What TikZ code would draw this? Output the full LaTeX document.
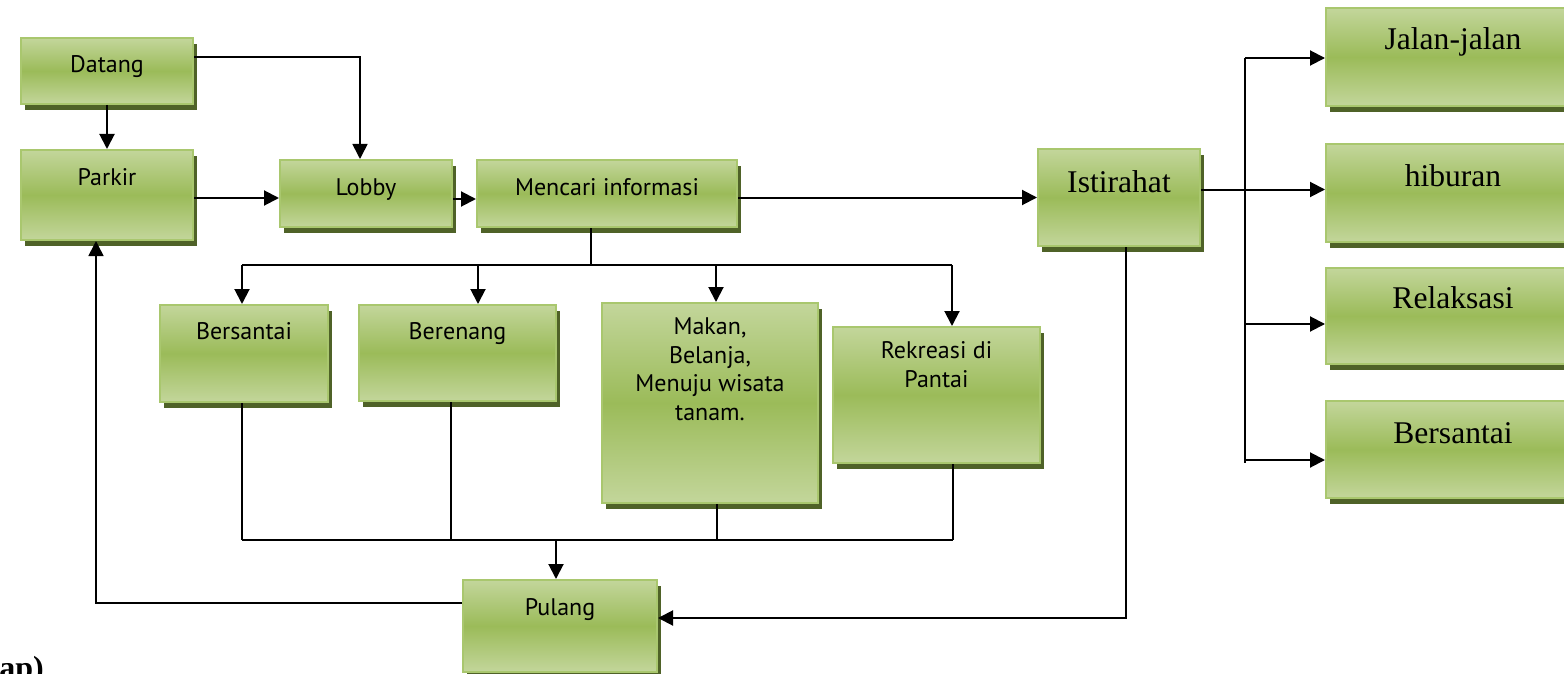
\documentclass[tikz,border=0pt]{standalone}
\usepackage{fontspec}
\setmainfont{Liberation Serif}
\newfontfamily\kotakfont{PT Sans}
\usetikzlibrary{arrows.meta,shadows}
\definecolor{hijaumuda}{HTML}{C3D69B}
\definecolor{hijau}{HTML}{9BBB59}
\definecolor{garistepi}{HTML}{A9C76E}
\definecolor{bayangan}{HTML}{4F6228}
\tikzstyle{kotak}=[draw=garistepi, line width=1pt, top color=hijaumuda, bottom color=hijaumuda, middle color=hijau,
  inner sep=0pt, drop shadow={shadow xshift=2pt, shadow yshift=-3pt, fill=bayangan, opacity=1},
  font=\kotakfont\fontsize{12pt}{14.25pt}\selectfont]
\tikzstyle{serif}=[font=\fontsize{15.8pt}{19pt}\selectfont]
\tikzstyle{panah}=[-{Triangle[length=7.5pt,width=7.5pt]}, line width=1pt]
\tikzstyle{garisan}=[line width=0.8pt]
\tikzset{tinggi/.style 2 args={text height=#1, text depth=#2}}

\begin{document}
\begin{tikzpicture}[x=0.5pt, y=-0.5pt]
  \useasboundingbox (0,0) rectangle (1564,674);

  % kotak kiri
  \node[kotak, minimum width=86pt, tinggi={17.5pt}{15.5pt}] (datang) at (107,71) {Datang};
  \node[kotak, minimum width=86pt, tinggi={17.5pt}{27.5pt}] (parkir) at (107,195) {Parkir};
  \node[kotak, minimum width=86pt, tinggi={17.5pt}{16pt}] (lobby) at (366,193.5) {Lobby};
  \node[kotak, minimum width=130pt, tinggi={17.5pt}{16pt}] (mencari) at (607,193.5) {Mencari informasi};

  % kegiatan
  \node[kotak, minimum width=84pt, tinggi={17pt}{31.5pt}] (bersantai) at (244,353.5) {Bersantai};
  \node[kotak, minimum width=98.5pt, tinggi={17pt}{31pt}] (berenang) at (457.5,353) {Berenang};
  \node[kotak, minimum width=108pt, tinggi={58.5pt}{41.5pt}, align=center] (makan) at (710,403)
    {Makan,\\Belanja,\\Menuju wisata\\tanam.};
  \node[kotak, minimum width=103.5pt, tinggi={30pt}{38pt}, align=center] (rekreasi) at (936.5,395)
    {Rekreasi di\\Pantai};
  \node[kotak, minimum width=97pt, tinggi={17.5pt}{28.5pt}] (pulang) at (560,626) {Pulang};

  % kotak kanan
  \node[kotak, serif, minimum width=81pt, tinggi={21.5pt}{27pt}] (istirahat) at (1119,197.5) {Istirahat};
  \node[kotak, serif, minimum width=127pt, tinggi={21pt}{28pt}] (jalan) at (1453,57) {Jalan-jalan};
  \node[kotak, serif, minimum width=127pt, tinggi={21pt}{28pt}] (hiburan) at (1453,193) {hiburan};
  \node[kotak, serif, minimum width=127pt, tinggi={20.3pt}{27.7pt}] (relaksasi) at (1453,316) {Relaksasi};
  \node[kotak, serif, minimum width=127pt, tinggi={21pt}{27.5pt}] (bersantaib) at (1453,449.5) {Bersantai};

  \node[anchor=base west, inner sep=0pt, font=\bfseries\fontsize{16pt}{19pt}\selectfont] (judul) at (-1,678) {ap)};

  % titik bantu
  \coordinate (d1) at (360,57);
  \coordinate (cab) at (591,265);
  \coordinate (t1) at (242,265);
  \coordinate (t2) at (478,265);
  \coordinate (t3) at (716,265);
  \coordinate (t4) at (952,265);
  \coordinate (k1) at (242,540);
  \coordinate (k2) at (451,540);
  \coordinate (k3) at (717,540);
  \coordinate (k4) at (953,540);
  \coordinate (kp) at (556,540);
  \coordinate (p1) at (96,603);
  \coordinate (i1) at (1126,618);
  \coordinate (r1) at (1245,58);
  \coordinate (r2) at (1245,324);
  \coordinate (r3) at (1245,460);
  \coordinate (r4) at (1245,463);

  % alur masuk
  \draw[panah, line width=0.8pt] (d1 -| datang.east) -- (d1) -- (d1 |- lobby.north);
  \draw[panah] (datang.south) -- (parkir.north);
  \draw[panah] ([yshift=-1.5pt]parkir.east) -- ([yshift=-1.5pt]parkir.east -| lobby.west);
  \draw[panah] ([yshift=-2.75pt]lobby.east) -- ([yshift=-2.75pt]mencari.west);
  \draw[panah] (mencari.east |- istirahat.west) -- (istirahat.west);

  % cabang kegiatan
  \draw[garisan] (cab |- mencari.south) -- (cab);
  \draw[garisan] (t1) -- (t4);
  \draw[panah] (t1) -- (t1 |- bersantai.north);
  \draw[panah] (t2) -- (t2 |- berenang.north);
  \draw[panah] (t3) -- (t3 |- makan.north);
  \draw[panah] (t4) -- (t4 |- rekreasi.north);

  % kumpul ke pulang
  \draw[garisan] (k1 |- bersantai.south) -- (k1);
  \draw[garisan] (k2 |- berenang.south) -- (k2);
  \draw[garisan] (k3 |- makan.south) -- (k3);
  \draw[garisan] (k4 |- rekreasi.south) -- (k4);
  \draw[garisan] (k1) -- (k4);
  \draw[panah] (kp) -- (kp |- pulang.north);
  \draw[panah, line width=0.8pt] (p1 -| pulang.west) -- (p1) -- (p1 |- parkir.south);
  \draw[panah] (i1 |- istirahat.south) -- (i1) -- (i1 -| pulang.east);

  % istirahat
  \draw[panah] ([yshift=4pt]istirahat.east) -- ([yshift=4pt]istirahat.east -| hiburan.west);
  \draw[line width=1pt] (r1) -- (r4);
  \draw[panah] (r1) -- (r1 -| jalan.west);
  \draw[panah] (r2) -- (r2 -| relaksasi.west);
  \draw[panah] (r3) -- (r3 -| bersantaib.west);
\end{tikzpicture}
\end{document}
